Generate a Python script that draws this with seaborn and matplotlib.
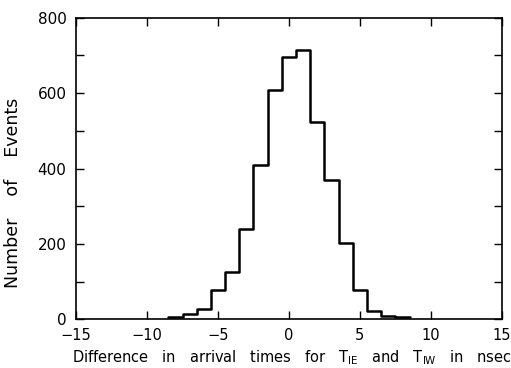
import numpy as np
import pandas as pd
import matplotlib
matplotlib.use("Agg")
import matplotlib.pyplot as plt
import seaborn as sns
from matplotlib.ticker import MultipleLocator

# Bin centers (nsec) and counts per bin
bin_centers = [-8, -7, -6, -5, -4, -3, -2, -1, 0, 1, 2, 3, 4, 5, 6, 7, 8]
counts = [6, 15, 28, 78, 125, 240, 410, 607, 697, 714, 523, 369, 203, 78, 22, 8, 6]
x_ticks = [-15, -10, -5, 0, 5, 10, 15]
y_ticks = [0, 200, 400, 600, 800]

sns.set_theme(style="white")
plt.rcParams['font.family'] = ['DejaVu Sans']

df = pd.DataFrame({"diff": bin_centers, "n": counts})

fig = plt.figure(figsize=(5.11, 3.68), dpi=100)
ax = fig.add_axes([0.149, 0.132, 0.833, 0.820])

sns.histplot(data=df, x="diff", weights="n", binwidth=1.0,
             binrange=(min(bin_centers) - 0.5, max(bin_centers) + 0.5),
             element="step", fill=False, color="black", linewidth=1.8, ax=ax)

ax.set_xlim(-15, 15)
ax.set_ylim(0, 800)
ax.set_xticks(x_ticks)
ax.set_yticks(y_ticks)
ax.set_xticklabels([("\u2212" + str(-t)) if t < 0 else str(t) for t in x_ticks], fontsize=10.5)
ax.set_yticklabels([str(t) for t in y_ticks], fontsize=11)
ax.yaxis.set_minor_locator(MultipleLocator(100))

ax.tick_params(axis="both", which="both", direction="in", top=True, right=True,
               bottom=True, left=True, length=6, width=1.0, color="black",
               labelcolor="black")
ax.tick_params(axis="x", pad=6)
ax.tick_params(axis="y", pad=7)
for s in ax.spines.values():
    s.set_color("black")
    s.set_linewidth(1.2)

ax.set_xlabel("Difference   in   arrival   times   for   T$_{\\rm IE}$   and   T$_{\\rm IW}$   in   nsec",
              fontsize=10.5, color="black", labelpad=5)
ax.xaxis.set_label_coords(0.506, -0.095)
ax.xaxis.label.set_va("top")
ax.set_ylabel("Number    of    Events", fontsize=12.5, color="black")
ax.yaxis.set_label_coords(-0.127, 0.42)

fig.savefig("out.png", dpi=100)
